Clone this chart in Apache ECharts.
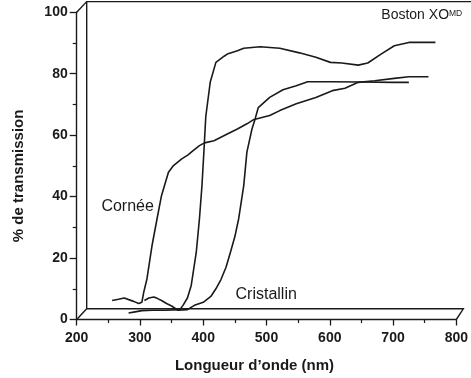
<!DOCTYPE html>
<html>
<head>
<meta charset="utf-8">
<script src="https://cdn.jsdelivr.net/npm/echarts@6/dist/echarts.min.js"></script>
<style>
html,body{margin:0;padding:0;background:#fff;}
#c{width:471px;height:378px;}
</style>
</head>
<body>
<div id="c"></div>
<script>
// ---- data ----
var xTicks = [200, 300, 400, 500, 600, 700, 800];
var yTicks = [0, 20, 40, 60, 80, 100];

var corneeNm = [256, 266, 275, 290, 298, 303, 306, 311, 319, 327, 334, 345, 353, 366, 376, 384, 394, 402, 417, 438, 454, 469, 479, 505, 521, 547, 578, 604, 624, 645, 671, 702, 725, 756];
var corneeT  = [6.2, 6.6, 7.0, 5.9, 5.2, 5.6, 8.9, 13.2, 24, 32.8, 40.3, 47.9, 50.1, 52.3, 53.6, 55, 56.6, 57.5, 58.2, 60.4, 62, 63.7, 65, 66.4, 68, 70.2, 72.3, 74.5, 75.3, 77.2, 77.7, 78.5, 79, 79];

var bostonNm = [282, 290, 303, 320, 340, 363, 368, 375, 381, 389, 394, 398, 401, 404, 411, 420, 433, 438, 454, 464, 490, 521, 552, 578, 601, 619, 645, 660, 681, 702, 725, 767];
var bostonT  = [2.1, 2.4, 2.9, 3.0, 3.0, 3.2, 4.6, 7, 11.1, 21.9, 32.8, 43.6, 54.5, 66, 77.2, 83.7, 85.7, 86.4, 87.5, 88.3, 88.8, 88.3, 86.8, 85.4, 83.7, 83.5, 82.8, 83.5, 86.4, 89.1, 90.2, 90.2];

var cristNm = [307, 314, 322, 328, 334, 342, 350, 360, 375, 386, 400, 412, 420, 428, 436, 443, 450, 456, 464, 469, 477, 482, 487, 505, 526, 547, 565, 600, 650, 700, 725];
var cristT  = [6.2, 7.0, 7.3, 6.8, 6.2, 5.2, 4.4, 3.0, 3.2, 4.6, 5.6, 7.5, 10, 13, 17, 21.9, 27, 32.8, 43.6, 54.5, 62, 65.3, 69, 72.3, 74.8, 76.1, 77.4, 77.4, 77.3, 77.2, 77.2];

var labels = [
  {text: 'Cornée', nm: 239, t: 36.6},
  {text: 'Cristallin', nm: 451, t: 8.0}
];
var titleText = 'Boston XO';
var titleSup = 'MD';

function pairs(xs, ys){ return xs.map(function(x,i){ return [x, ys[i]]; }); }

var FONT = '"Liberation Sans", Arial, Helvetica, sans-serif';
var INK = '#1a1a1a';

var chart = echarts.init(document.getElementById('c'), null, {renderer: 'canvas'});

function lineSeries(name, xs, ys){
  return {
    name: name, type: 'line', data: pairs(xs, ys), showSymbol: false, symbol: 'none',
    smooth: false, lineStyle: {color: INK, width: 1.6}, animation: false, z: 5
  };
}

chart.setOption({
  animation: false,
  backgroundColor: '#fff',
  grid: {left: 76.7, right: 7.7, top: 12.3, bottom: 57.3, containLabel: false},
  xAxis: {
    type: 'value', min: xTicks[0], max: xTicks[xTicks.length-1], interval: 100,
    name: 'Longueur d’onde (nm)', nameLocation: 'middle', nameGap: 46,
    nameTextStyle: {fontFamily: FONT, fontWeight: 'bold', fontSize: 15, color: INK, verticalAlign: 'middle', padding: [0, 24, 0, 0]},
    axisLine: {show: true, lineStyle: {color: INK, width: 1.4}},
    axisTick: {show: true, length: 6, lineStyle: {color: INK, width: 1.3}},
    minorTick: {show: true, splitNumber: 2, length: 3.5, lineStyle: {color: INK, width: 1.2}},
    splitLine: {show: false},
    axisLabel: {fontFamily: FONT, fontWeight: 'bold', fontSize: 14, color: INK, margin: 12}
  },
  yAxis: {
    type: 'value', min: yTicks[0], max: yTicks[yTicks.length-1], interval: 20,
    name: '% de transmission', nameLocation: 'middle', nameGap: 58, nameRotate: 90,
    nameTextStyle: {fontFamily: FONT, fontWeight: 'bold', fontSize: 15, color: INK, verticalAlign: 'middle', padding: [0, 20, 0, 0]},
    axisLine: {show: true, lineStyle: {color: INK, width: 1.4}},
    axisTick: {show: true, length: 7, lineStyle: {color: INK, width: 1.3}},
    minorTick: {show: true, splitNumber: 2, length: 4, lineStyle: {color: INK, width: 1.2}},
    splitLine: {show: false},
    axisLabel: {fontFamily: FONT, fontWeight: 'bold', fontSize: 14, color: INK, margin: 9}
  },
  series: [
    lineSeries('Cornée', corneeNm, corneeT),
    lineSeries('Boston XO', bostonNm, bostonT),
    lineSeries('Cristallin', cristNm, cristT)
  ]
});

// 3D frame (back wall offset) and text annotations, positioned from the axes
var p00 = chart.convertToPixel({gridIndex: 0}, [xTicks[0], yTicks[0]]);
var p0T = chart.convertToPixel({gridIndex: 0}, [xTicks[0], yTicks[yTicks.length-1]]);
var pX0 = chart.convertToPixel({gridIndex: 0}, [xTicks[xTicks.length-1], yTicks[0]]);
var dx = 10, dy = -10.7;
var W = 471;
var frameStyle = {stroke: INK, lineWidth: 1.4, fill: null};
var g = [
  {type: 'polyline', shape: {points: [[p0T[0], p0T[1]], [p0T[0]+dx, p0T[1]+dy], [W+5, p0T[1]+dy]]}, style: frameStyle, z: 3},
  {type: 'line', shape: {x1: p0T[0]+dx, y1: p0T[1]+dy, x2: p00[0]+dx, y2: p00[1]+dy}, style: frameStyle, z: 3},
  {type: 'polyline', shape: {points: [[p00[0], p00[1]], [p00[0]+dx, p00[1]+dy], [pX0[0]+dx-3, pX0[1]+dy], [pX0[0], pX0[1]]]}, style: frameStyle, z: 3}
];
labels.forEach(function(l){
  var p = chart.convertToPixel({gridIndex: 0}, [l.nm, l.t]);
  g.push({type: 'text', x: p[0], y: p[1], style: {text: l.text, fill: INK, font: '16px ' + FONT, align: 'left', verticalAlign: 'middle'}, z: 6});
});
var pt = chart.convertToPixel({gridIndex: 0}, [xTicks[xTicks.length-1], yTicks[yTicks.length-1]]);
g.push({type: 'text', x: pt[0] - 75, y: pt[1] - 4, style: {
  text: '{a|' + titleText + '}{b|' + titleSup + '}', fill: INK, align: 'left', verticalAlign: 'top',
  rich: {a: {font: '14px ' + FONT, fill: INK, verticalAlign: 'top'}, b: {font: '8.5px ' + FONT, fill: INK, verticalAlign: 'top', padding: [1, 0, 0, 0]}}
}, z: 6});
chart.setOption({graphic: g});
</script>
</body>
</html>
